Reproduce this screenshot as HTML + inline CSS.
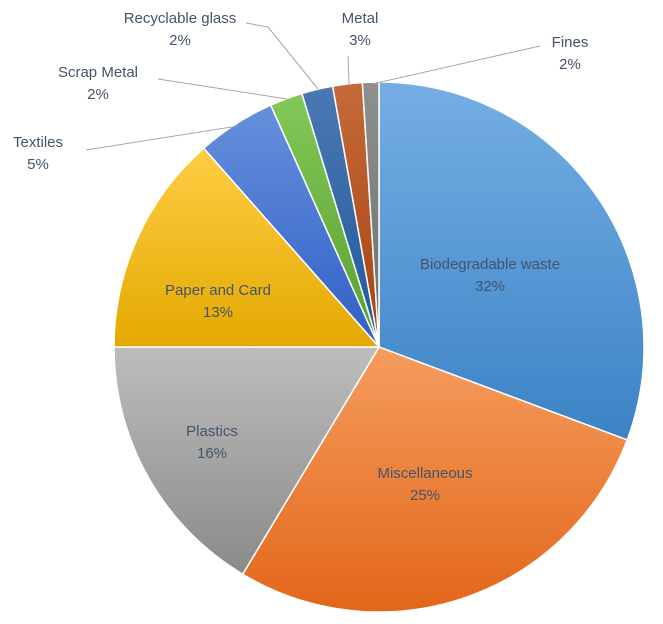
<!DOCTYPE html>
<html><head><meta charset="utf-8"><style>
body{margin:0;background:#fff;}
svg{display:block;font-family:"Liberation Sans",sans-serif;}
</style></head><body>
<svg id="chart" width="663" height="624">
<defs>
<linearGradient id="g0" x1="0" y1="0" x2="0" y2="1"><stop offset="0" stop-color="#75aee4"/><stop offset="1" stop-color="#3b83c6"/></linearGradient>
<linearGradient id="g1" x1="0" y1="0" x2="0" y2="1"><stop offset="0" stop-color="#f59d5e"/><stop offset="1" stop-color="#e2661a"/></linearGradient>
<linearGradient id="g2" x1="0" y1="0" x2="0" y2="1"><stop offset="0" stop-color="#bdbdbd"/><stop offset="1" stop-color="#8a8a8a"/></linearGradient>
<linearGradient id="g3" x1="0" y1="0" x2="0" y2="1"><stop offset="0" stop-color="#ffcd45"/><stop offset="1" stop-color="#e3a900"/></linearGradient>
<linearGradient id="g4" x1="0" y1="0" x2="0" y2="1"><stop offset="0" stop-color="#6690dc"/><stop offset="1" stop-color="#2f5fc6"/></linearGradient>
<linearGradient id="g5" x1="0" y1="0" x2="0" y2="1"><stop offset="0" stop-color="#84c75a"/><stop offset="1" stop-color="#58a02e"/></linearGradient>
<linearGradient id="g6" x1="0" y1="0" x2="0" y2="1"><stop offset="0" stop-color="#4a78b3"/><stop offset="1" stop-color="#22589a"/></linearGradient>
<linearGradient id="g7" x1="0" y1="0" x2="0" y2="1"><stop offset="0" stop-color="#c66a3a"/><stop offset="1" stop-color="#a5420e"/></linearGradient>
<linearGradient id="g8" x1="0" y1="0" x2="0" y2="1"><stop offset="0" stop-color="#8f8f8f"/><stop offset="1" stop-color="#6e6e6e"/></linearGradient>
</defs>
<g id="slices"></g>
<g id="leaders" stroke="#a6a6a6" stroke-width="1" fill="none">
<polyline points="372,84 540,46"/>
<polyline points="349,84 348,56"/>
<polyline points="318,89 268,27 246,23"/>
<polyline points="287,99 158,79"/>
<polyline points="238,126 86,150"/>
</g>
<g id="labels" font-size="15" fill="#44546a" text-anchor="middle"></g>
</svg>
<script>
const categories=["Biodegradable waste","Miscellaneous","Plastics","Paper and Card","Textiles","Scrap Metal","Recyclable glass","Metal","Fines"];
const values=[30.7,27.9,16.4,13.5,4.8,2.0,1.9,1.8,1.0];
const pctLabels=["32%","25%","16%","13%","5%","2%","2%","3%","2%"];
const cx=379,cy=347,R=265;
const NS="http://www.w3.org/2000/svg";
const total=values.reduce((a,b)=>a+b,0);
const gs=document.getElementById('slices'),gl=document.getElementById('labels');
const labelPos={0:[490,264],1:[425,473],2:[212,431],3:[218,290],4:[38,142],5:[98,72],6:[180,18],7:[360,18],8:[570,42]};
function pt(a,r){return [cx+r*Math.sin(a),cy-r*Math.cos(a)];}
let cum=0;
values.forEach((v,i)=>{
  const a0=cum/total*2*Math.PI;cum+=v;const a1=cum/total*2*Math.PI;
  const p0=pt(a0,R),p1=pt(a1,R);const large=(a1-a0)>Math.PI?1:0;
  const p=document.createElementNS(NS,'path');
  p.setAttribute('d',`M${cx},${cy}L${p0[0]},${p0[1]}A${R},${R} 0 ${large} 1 ${p1[0]},${p1[1]}Z`);
  p.setAttribute('fill',`url(#g${i})`);p.setAttribute('stroke','#fff');p.setAttribute('stroke-width','1.5');
  
  
  gs.appendChild(p);
  const [x,y]=labelPos[i];
  const t=document.createElementNS(NS,'text');
  t.setAttribute('x',x);t.setAttribute('y',y+5);
  
  
  const s1=document.createElementNS(NS,'tspan');s1.setAttribute('x',x);s1.textContent=categories[i];
  const s2=document.createElementNS(NS,'tspan');s2.setAttribute('x',x);s2.setAttribute('dy','22');s2.textContent=pctLabels[i];
  t.appendChild(s1);t.appendChild(s2);gl.appendChild(t);
});
</script>
</body></html>
